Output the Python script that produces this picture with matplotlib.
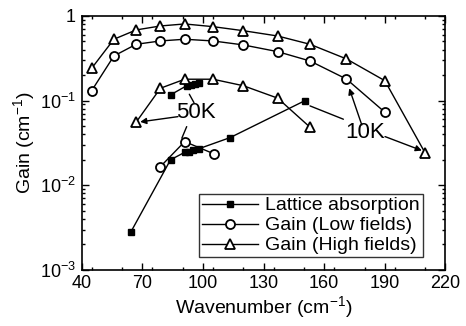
import matplotlib
matplotlib.use("Agg")
import matplotlib.pyplot as plt
from matplotlib.ticker import FixedLocator, MultipleLocator, LogLocator, NullFormatter

plt.rcParams['font.family'] = ['Liberation Sans', 'DejaVu Sans']
plt.rcParams['mathtext.fontset'] = 'custom'
plt.rcParams['mathtext.rm'] = 'Liberation Sans'
plt.rcParams['mathtext.it'] = 'Liberation Sans'
plt.rcParams['mathtext.default'] = 'regular'

# ---- data ----
# Lattice absorption (two groups)
latt_a_x = [84, 92, 94, 96, 98]
latt_a_y = [0.117, 0.150, 0.154, 0.157, 0.160]
latt_b_x = [64.5, 84, 91, 93, 95, 98, 113.5, 150.5]
latt_b_y = [0.00284, 0.020, 0.0245, 0.025, 0.026, 0.027, 0.0366, 0.100]

# Gain, low fields
low10_x = [45, 56, 67, 79, 91, 105, 120, 137, 153, 171, 190]
low10_y = [0.131, 0.337, 0.463, 0.507, 0.531, 0.507, 0.455, 0.379, 0.294, 0.180, 0.073]
low50_x = [79, 91, 105.5]
low50_y = [0.0166, 0.0328, 0.0235]

# Gain, high fields
high10_x = [45, 56, 67, 79, 91, 105, 120, 137, 153, 171, 190, 210]
high10_y = [0.241, 0.531, 0.684, 0.762, 0.805, 0.748, 0.670, 0.580, 0.463, 0.311, 0.172, 0.0239]
high50_x = [67, 79, 91, 105, 120, 137, 153]
high50_y = [0.0556, 0.140, 0.179, 0.179, 0.150, 0.107, 0.0485]

labels = ["Lattice absorption", "Gain (Low fields)", "Gain (High fields)"]
x_ticks = [40, 70, 100, 130, 160, 190, 220]
y_ticks = [1e-3, 1e-2, 1e-1, 1]
y_tick_labels = [r"$10^{-3}$", r"$10^{-2}$", r"$10^{-1}$", "1"]

fig = plt.figure(figsize=(4.66, 3.26), dpi=100)
ax = fig.add_axes([0.175, 0.172, 0.781, 0.779])

sq = dict(color='black', lw=1.0, marker='s', ms=5, mfc='black', mec='black')
ci = dict(color='black', lw=1.0, marker='o', ms=6.5, mfc='white', mec='black', mew=1.3)
tr = dict(color='black', lw=1.0, marker='^', ms=7.5, mfc='white', mec='black', mew=1.3)

l1, = ax.plot(latt_a_x, latt_a_y, **sq)
ax.plot(latt_b_x, latt_b_y, **sq)
l2, = ax.plot(low10_x, low10_y, **ci)
ax.plot(low50_x, low50_y, **ci)
l3, = ax.plot(high10_x, high10_y, **tr)
ax.plot(high50_x, high50_y, **tr)

ax.set_yscale('log')
ax.set_xlim(40, 220)
ax.set_ylim(1e-3, 1)
ax.xaxis.set_major_locator(FixedLocator(x_ticks))
ax.xaxis.set_minor_locator(MultipleLocator(15))
ax.yaxis.set_major_locator(FixedLocator(y_ticks))
ax.set_yticklabels(y_tick_labels)
ax.yaxis.set_minor_locator(LogLocator(base=10, subs=range(2, 10)))
ax.yaxis.set_minor_formatter(NullFormatter())

ax.tick_params(which='both', direction='in', top=True, right=True, labelsize=13, width=1)
ax.tick_params(which='major', length=5, pad=4)
ax.tick_params(which='minor', length=2.5)
for s in ax.spines.values():
    s.set_linewidth(1.2)

ax.set_xlabel(r"Wavenumber (cm$^{-1}$)", fontsize=14, labelpad=1)
ax.set_ylabel(r"Gain (cm$^{-1}$)", fontsize=14, labelpad=2)

leg = ax.legend([l1, l2, l3], labels, loc='lower right', bbox_to_anchor=(0.937, 0.05),
                fontsize=14, frameon=True, fancybox=False, edgecolor='black',
                handlelength=2.9, handletextpad=0.35, labelspacing=0.12,
                borderpad=0.15, borderaxespad=0)
leg.get_frame().set_linewidth(1.0)

# annotations
ax.text(96.6, 0.0726, "50K", fontsize=16, ha='center', va='center')
ax.text(180.2, 0.0416, "10K", fontsize=16, ha='center', va='center')

arrow = dict(arrowstyle='-|>', color='black', lw=1.0, mutation_scale=9, shrinkA=0, shrinkB=0)
line = dict(arrowstyle='-', color='black', lw=1.0, shrinkA=0, shrinkB=0)
ax.annotate("", xy=(69, 0.0561), xytext=(87.7, 0.0647), arrowprops=arrow)
ax.annotate("", xy=(93.3, 0.119), xytext=(95.6, 0.0947), arrowprops=line)
ax.annotate("", xy=(89.6, 0.036), xytext=(92.0, 0.0493), arrowprops=line)
ax.annotate("", xy=(153.0, 0.0866), xytext=(169.5, 0.0603), arrowprops=line)
ax.annotate("", xy=(172.4, 0.140), xytext=(178.6, 0.0516), arrowprops=arrow)
ax.annotate("", xy=(208.3, 0.0257), xytext=(190.1, 0.0376), arrowprops=arrow)

fig.savefig("out.png", dpi=100)
